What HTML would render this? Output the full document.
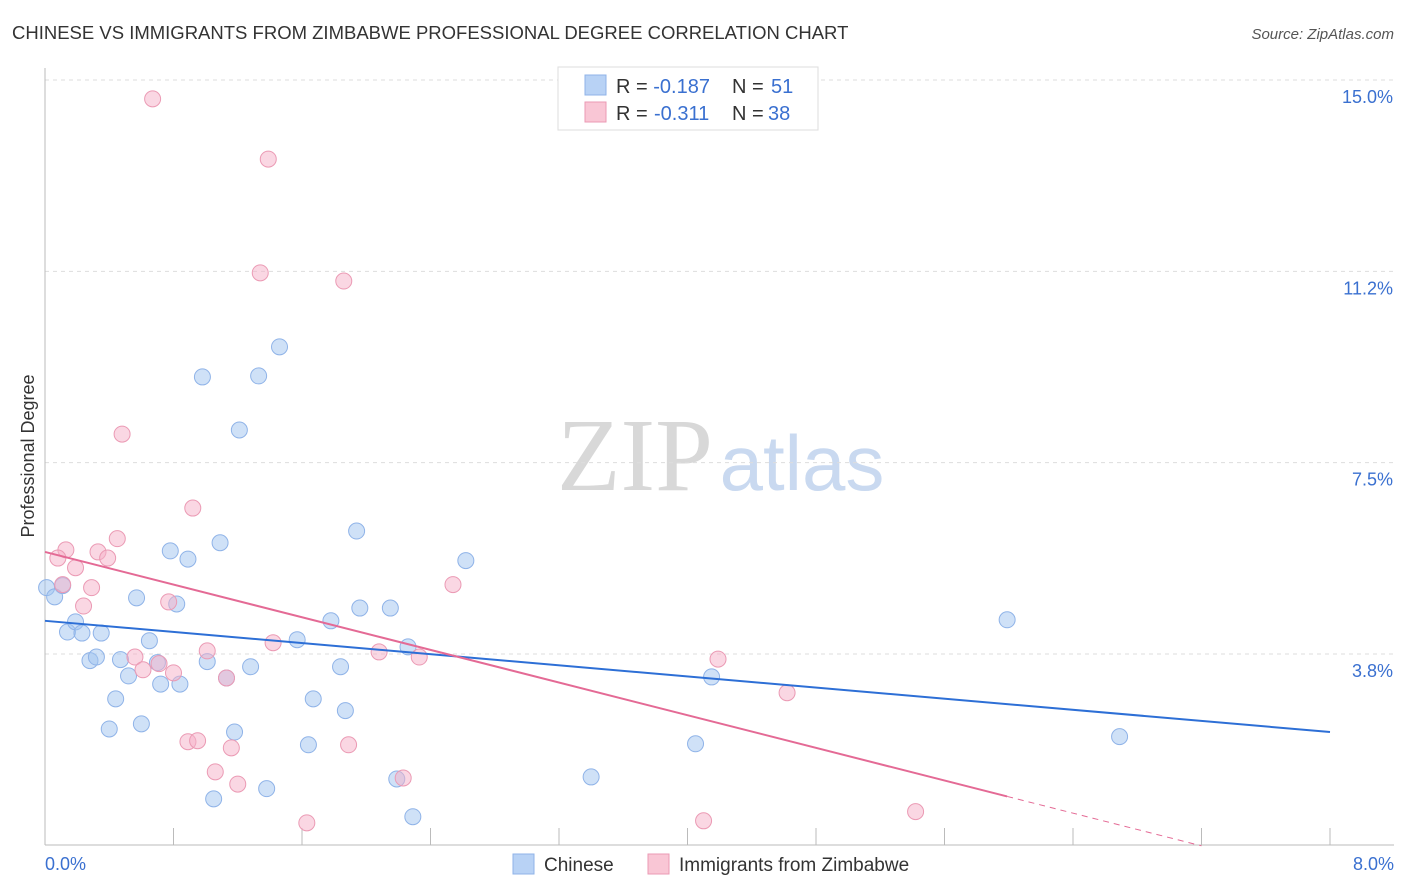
<!DOCTYPE html>
<html><head><meta charset="utf-8">
<style>
body{margin:0;background:#fff;font-family:"Liberation Sans",sans-serif;}
svg{display:block}
</style></head>
<body>
<svg id="chart" width="1406" height="892" xmlns="http://www.w3.org/2000/svg">
<text x="12" y="39" font-size="18.5" fill="#333">CHINESE VS IMMIGRANTS FROM ZIMBABWE PROFESSIONAL DEGREE CORRELATION CHART</text>
<text x="1394" y="39" font-size="15" fill="#555" font-style="italic" text-anchor="end">Source: ZipAtlas.com</text>
<text x="635" y="490" font-size="104" fill="#d8d8d8" font-family="Liberation Serif,serif" text-anchor="middle">ZIP</text>
<text x="802" y="490" font-size="78" fill="#c9d9f0" text-anchor="middle">atlas</text>
<text transform="translate(34,456) rotate(-90)" font-size="18" fill="#333" text-anchor="middle">Professional Degree</text>
<g id="grid"></g>
<g id="marks"></g>
<g>
<rect x="558" y="67" width="260" height="63" fill="#fff" stroke="#ddd"/>
<rect x="585" y="75" width="21" height="20" fill="#b8d2f5" stroke="#8fb3e8"/>
<rect x="585" y="102" width="21" height="20" fill="#f9c6d5" stroke="#eb9ab4"/>
<text x="616" y="93" font-size="20" fill="#333">R = <tspan fill="#3a70d0">-0.187</tspan><tspan x="732">N = </tspan><tspan x="771" fill="#3a70d0">51</tspan></text>
<text x="616" y="120" font-size="20" fill="#333">R = <tspan x="654" fill="#3a70d0">-0.311</tspan><tspan x="732">N = </tspan><tspan x="768" fill="#3a70d0">38</tspan></text>
</g>
<g>
<rect x="513" y="854" width="21" height="20" fill="#b8d2f5" stroke="#8fb3e8"/>
<text x="544" y="871" font-size="19" fill="#333">Chinese</text>
<rect x="648" y="854" width="21" height="20" fill="#f9c6d5" stroke="#eb9ab4"/>
<text x="679" y="871" font-size="19" fill="#333">Immigrants from Zimbabwe</text>
</g>
</svg>
<script>
const yTicks=[15.0,11.25,7.5,3.75];
const yTickLabels=["15.0%","11.2%","7.5%","3.8%"];
const xTickLabels=["0.0%","8.0%"];
const blueX=[0.01,0.06,0.11,0.14,0.19,0.23,0.28,0.32,0.35,0.40,0.44,0.47,0.52,0.57,0.60,0.65,0.70,0.72,0.82,0.78,0.84,0.89,0.98,1.01,1.05,1.09,1.13,1.18,1.21,1.28,1.33,1.38,1.46,1.57,1.64,1.67,1.78,1.84,1.87,1.94,1.96,2.15,2.19,2.26,2.29,2.62,3.40,4.05,4.15,5.99,6.69];
const blueY=[5.05,4.87,5.09,4.18,4.38,4.16,3.62,3.69,4.16,2.28,2.87,3.64,3.32,4.85,2.38,4.01,3.58,3.16,4.73,5.77,3.16,5.61,9.18,3.60,0.91,5.93,3.28,2.22,8.14,3.50,9.20,1.11,9.77,4.03,1.97,2.87,4.40,3.50,2.64,6.16,4.65,4.65,1.30,3.89,0.56,5.58,1.34,1.99,3.30,4.42,2.13];
const pinkX=[0.67,1.39,1.34,1.86,0.48,0.92,0.45,0.13,0.08,0.33,0.39,0.19,0.29,0.11,0.24,0.77,0.56,0.61,0.71,0.80,1.01,1.13,1.42,2.08,2.33,2.54,4.19,4.62,0.89,0.95,1.16,1.89,1.06,1.20,2.23,1.63,4.10,5.42];
const pinkY=[14.63,13.45,11.22,11.06,8.06,6.61,6.01,5.79,5.63,5.75,5.63,5.44,5.05,5.11,4.69,4.77,3.69,3.44,3.56,3.38,3.81,3.28,3.97,3.79,3.69,5.11,3.65,2.99,2.03,2.05,1.91,1.97,1.44,1.20,1.32,0.44,0.48,0.66];
const blueTrend=[4.40,2.22];
const pinkTrend=[5.75,-0.80];
const NS="http://www.w3.org/2000/svg";
const X=v=>45+v/8*1285, Y=v=>80+(15-v)*51.02;
function mk(t,a,p){const e=document.createElementNS(NS,t);for(const k in a)e.setAttribute(k,a[k]);p.appendChild(e);return e;}
const grid=document.getElementById('grid'), marks=document.getElementById('marks');
yTicks.forEach((v,i)=>{
 const l=mk('line',{x1:45,x2:1394,y1:Y(v),y2:Y(v),stroke:'#ddd','stroke-dasharray':'4,4'},grid);
 
 
 const t=mk('text',{x:1393,y:Y(v)+23,'font-size':18,fill:'#3a70d0','text-anchor':'end'},grid);
 t.textContent=yTickLabels[i];
 
 
});
const ax=mk('line',{x1:45,x2:45,y1:68,y2:845,stroke:'#bbb'},grid);


const bx=mk('line',{x1:45,x2:1394,y1:845,y2:845,stroke:'#bbb'},grid);


for(let i=1;i<=10;i++){const t=mk('line',{x1:X(i*0.8),x2:X(i*0.8),y1:828,y2:845,stroke:'#bbb'},grid);
 
 }
[[0,'start',45],[8,'end',1394]].forEach(([v,a,x],i)=>{const t=mk('text',{x:x,y:870,'font-size':18,fill:'#3a70d0','text-anchor':a},grid);t.textContent=xTickLabels[i];
 
 });
blueX.forEach((x,i)=>{const c=mk('circle',{cx:X(x),cy:Y(blueY[i]),r:8,fill:'rgba(160,195,240,0.5)',stroke:'#8fb3e8'},marks);
 
 });
pinkX.forEach((x,i)=>{const c=mk('circle',{cx:X(x),cy:Y(pinkY[i]),r:8,fill:'rgba(245,175,200,0.5)',stroke:'#eb9ab4'},marks);
 
 });
const bl=mk('line',{x1:X(0),y1:Y(blueTrend[0]),x2:X(8),y2:Y(blueTrend[1]),stroke:'#2d6fd6','stroke-width':2},marks);


const pe=5.99, pd=7.2;
const pl=mk('line',{x1:X(0),y1:Y(pinkTrend[0]),x2:X(pe),y2:Y(pinkTrend[0]+pinkTrend[1]*pe),stroke:'#e46a95','stroke-width':2},marks);


const pdl=mk('line',{x1:X(pe),y1:Y(pinkTrend[0]+pinkTrend[1]*pe),x2:X(pd),y2:Y(pinkTrend[0]+pinkTrend[1]*pd),stroke:'#e46a95','stroke-width':1,'stroke-dasharray':'6,5'},marks);


</script>
</body></html>
